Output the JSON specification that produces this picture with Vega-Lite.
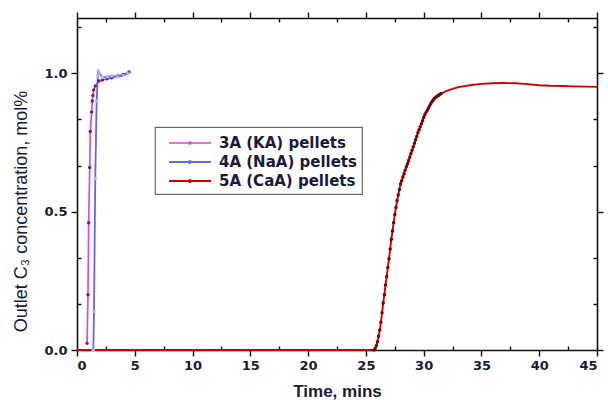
{
  "$schema": "https://vega.github.io/schema/vega-lite/v6.json",
  "width": 520,
  "height": 332,
  "autosize": {"type": "none"},
  "padding": {"left": 77, "top": 18, "right": 11, "bottom": 50},
  "background": "white",
  "config": {
    "view": {"stroke": null},
    "font": "Liberation Sans",
    "axis": {
      "domainColor": "#111111",
      "domainWidth": 1.6,
      "tickColor": "#111111",
      "tickWidth": 1.4,
      "grid": false,
      "labelFont": "DejaVu Sans",
      "labelFontWeight": "bold",
      "labelFontSize": 13,
      "labelColor": "#1a1a3a",
      "titleFont": "Liberation Sans",
      "titleColor": "#1a1a3a"
    },
    "legend": {
      "orient": "none",
      "legendX": 78,
      "legendY": 109,
      "strokeColor": "#6a6a6a",
      "strokeWidth": 1.2,
      "fillColor": "white",
      "padding": 5,
      "symbolType": "M-0.2,0H4M1.8,0a0.1,0.1 0 1,0 0.2,0a0.1,0.1 0 1,0 -0.2,0",
      "symbolSize": 400,
      "symbolStrokeWidth": 1.5,
      "labelFont": "DejaVu Sans",
      "labelFontSize": 15,
      "labelFontWeight": "bold",
      "labelColor": "#1a1a3a",
      "rowPadding": 0,
      "labelOffset": 37
    }
  },
  "data": {
    "values": [
      {"s": "3A (KA) pellets", "t": 0.87, "v": 0.024},
      {"s": "3A (KA) pellets", "t": 0.95, "v": 0.2},
      {"s": "3A (KA) pellets", "t": 1.01, "v": 0.46},
      {"s": "3A (KA) pellets", "t": 1.1, "v": 0.66},
      {"s": "3A (KA) pellets", "t": 1.15, "v": 0.79},
      {"s": "3A (KA) pellets", "t": 1.27, "v": 0.86},
      {"s": "3A (KA) pellets", "t": 1.32, "v": 0.9},
      {"s": "3A (KA) pellets", "t": 1.38, "v": 0.92},
      {"s": "3A (KA) pellets", "t": 1.44, "v": 0.94},
      {"s": "3A (KA) pellets", "t": 1.58, "v": 0.954},
      {"s": "3A (KA) pellets", "t": 1.88, "v": 0.972},
      {"s": "3A (KA) pellets", "t": 2.2, "v": 0.976},
      {"s": "3A (KA) pellets", "t": 2.6, "v": 0.98},
      {"s": "3A (KA) pellets", "t": 3.0, "v": 0.984},
      {"s": "3A (KA) pellets", "t": 3.5, "v": 0.99},
      {"s": "3A (KA) pellets", "t": 4.0, "v": 0.996},
      {"s": "3A (KA) pellets", "t": 4.5, "v": 1.005},
      {"s": "4A (NaA) pellets", "t": 1.41, "v": 0.0},
      {"s": "4A (NaA) pellets", "t": 1.47, "v": 0.14},
      {"s": "4A (NaA) pellets", "t": 1.58, "v": 0.62},
      {"s": "4A (NaA) pellets", "t": 1.7, "v": 0.9},
      {"s": "4A (NaA) pellets", "t": 1.8, "v": 0.99},
      {"s": "4A (NaA) pellets", "t": 1.84, "v": 1.008},
      {"s": "4A (NaA) pellets", "t": 1.95, "v": 1.0},
      {"s": "4A (NaA) pellets", "t": 2.2, "v": 0.986},
      {"s": "4A (NaA) pellets", "t": 2.6, "v": 0.988},
      {"s": "4A (NaA) pellets", "t": 3.0, "v": 0.99},
      {"s": "4A (NaA) pellets", "t": 3.5, "v": 0.988},
      {"s": "4A (NaA) pellets", "t": 4.0, "v": 0.992},
      {"s": "4A (NaA) pellets", "t": 4.4, "v": 1.0},
      {"s": "5A (CaA) pellets", "t": 0, "v": 0},
      {"s": "5A (CaA) pellets", "t": 5, "v": 0},
      {"s": "5A (CaA) pellets", "t": 10, "v": 0},
      {"s": "5A (CaA) pellets", "t": 15, "v": 0},
      {"s": "5A (CaA) pellets", "t": 20, "v": 0},
      {"s": "5A (CaA) pellets", "t": 25, "v": 0},
      {"s": "5A (CaA) pellets", "t": 25.6, "v": 0},
      {"s": "5A (CaA) pellets", "t": 25.7, "v": 0.0},
      {"s": "5A (CaA) pellets", "t": 25.8, "v": 0.005},
      {"s": "5A (CaA) pellets", "t": 25.9, "v": 0.015},
      {"s": "5A (CaA) pellets", "t": 26.0, "v": 0.03},
      {"s": "5A (CaA) pellets", "t": 26.1, "v": 0.05},
      {"s": "5A (CaA) pellets", "t": 26.2, "v": 0.072},
      {"s": "5A (CaA) pellets", "t": 26.3, "v": 0.1},
      {"s": "5A (CaA) pellets", "t": 26.4, "v": 0.135},
      {"s": "5A (CaA) pellets", "t": 26.5, "v": 0.17},
      {"s": "5A (CaA) pellets", "t": 26.6, "v": 0.2},
      {"s": "5A (CaA) pellets", "t": 26.7, "v": 0.235},
      {"s": "5A (CaA) pellets", "t": 26.8, "v": 0.266},
      {"s": "5A (CaA) pellets", "t": 26.9, "v": 0.298},
      {"s": "5A (CaA) pellets", "t": 27.0, "v": 0.33},
      {"s": "5A (CaA) pellets", "t": 27.1, "v": 0.365},
      {"s": "5A (CaA) pellets", "t": 27.2, "v": 0.4},
      {"s": "5A (CaA) pellets", "t": 27.3, "v": 0.43},
      {"s": "5A (CaA) pellets", "t": 27.4, "v": 0.46},
      {"s": "5A (CaA) pellets", "t": 27.5, "v": 0.49},
      {"s": "5A (CaA) pellets", "t": 27.6, "v": 0.515},
      {"s": "5A (CaA) pellets", "t": 27.7, "v": 0.54},
      {"s": "5A (CaA) pellets", "t": 27.8, "v": 0.56},
      {"s": "5A (CaA) pellets", "t": 27.9, "v": 0.58},
      {"s": "5A (CaA) pellets", "t": 28.0, "v": 0.6},
      {"s": "5A (CaA) pellets", "t": 28.1, "v": 0.612},
      {"s": "5A (CaA) pellets", "t": 28.2, "v": 0.625},
      {"s": "5A (CaA) pellets", "t": 28.3, "v": 0.637},
      {"s": "5A (CaA) pellets", "t": 28.4, "v": 0.65},
      {"s": "5A (CaA) pellets", "t": 28.5, "v": 0.662},
      {"s": "5A (CaA) pellets", "t": 28.6, "v": 0.673},
      {"s": "5A (CaA) pellets", "t": 28.7, "v": 0.685},
      {"s": "5A (CaA) pellets", "t": 28.8, "v": 0.697},
      {"s": "5A (CaA) pellets", "t": 28.9, "v": 0.71},
      {"s": "5A (CaA) pellets", "t": 29.0, "v": 0.722},
      {"s": "5A (CaA) pellets", "t": 29.1, "v": 0.735},
      {"s": "5A (CaA) pellets", "t": 29.2, "v": 0.747},
      {"s": "5A (CaA) pellets", "t": 29.3, "v": 0.76},
      {"s": "5A (CaA) pellets", "t": 29.4, "v": 0.772},
      {"s": "5A (CaA) pellets", "t": 29.5, "v": 0.785},
      {"s": "5A (CaA) pellets", "t": 29.6, "v": 0.796},
      {"s": "5A (CaA) pellets", "t": 29.7, "v": 0.807},
      {"s": "5A (CaA) pellets", "t": 29.8, "v": 0.818},
      {"s": "5A (CaA) pellets", "t": 29.9, "v": 0.829},
      {"s": "5A (CaA) pellets", "t": 30.0, "v": 0.84},
      {"s": "5A (CaA) pellets", "t": 30.1, "v": 0.85},
      {"s": "5A (CaA) pellets", "t": 30.2, "v": 0.858},
      {"s": "5A (CaA) pellets", "t": 30.3, "v": 0.866},
      {"s": "5A (CaA) pellets", "t": 30.4, "v": 0.874},
      {"s": "5A (CaA) pellets", "t": 30.5, "v": 0.882},
      {"s": "5A (CaA) pellets", "t": 30.6, "v": 0.889},
      {"s": "5A (CaA) pellets", "t": 30.7, "v": 0.896},
      {"s": "5A (CaA) pellets", "t": 30.8, "v": 0.902},
      {"s": "5A (CaA) pellets", "t": 30.9, "v": 0.908},
      {"s": "5A (CaA) pellets", "t": 31.0, "v": 0.912},
      {"s": "5A (CaA) pellets", "t": 31.1, "v": 0.915},
      {"s": "5A (CaA) pellets", "t": 31.2, "v": 0.918},
      {"s": "5A (CaA) pellets", "t": 31.3, "v": 0.921},
      {"s": "5A (CaA) pellets", "t": 31.4, "v": 0.924},
      {"s": "5A (CaA) pellets", "t": 31.5, "v": 0.927},
      {"s": "5A (CaA) pellets", "t": 32, "v": 0.937},
      {"s": "5A (CaA) pellets", "t": 32.5, "v": 0.944},
      {"s": "5A (CaA) pellets", "t": 33, "v": 0.95},
      {"s": "5A (CaA) pellets", "t": 34, "v": 0.957},
      {"s": "5A (CaA) pellets", "t": 35, "v": 0.962},
      {"s": "5A (CaA) pellets", "t": 36, "v": 0.964},
      {"s": "5A (CaA) pellets", "t": 37, "v": 0.965},
      {"s": "5A (CaA) pellets", "t": 38, "v": 0.964},
      {"s": "5A (CaA) pellets", "t": 39, "v": 0.961},
      {"s": "5A (CaA) pellets", "t": 40, "v": 0.957},
      {"s": "5A (CaA) pellets", "t": 41, "v": 0.955},
      {"s": "5A (CaA) pellets", "t": 42, "v": 0.954},
      {"s": "5A (CaA) pellets", "t": 43, "v": 0.953},
      {"s": "5A (CaA) pellets", "t": 44, "v": 0.952},
      {"s": "5A (CaA) pellets", "t": 45, "v": 0.951}
    ]
  },
  "layer": [
    {
      "mark": {"type": "line"},
      "encoding": {
        "x": {
          "field": "t", "type": "quantitative",
          "scale": {"domain": [0, 45], "nice": false, "zero": false},
          "axis": {
            "orient": "bottom",
            "values": [0, 2.5, 5, 7.5, 10, 12.5, 15, 17.5, 20, 22.5, 25, 27.5, 30, 32.5, 35, 37.5, 40, 42.5, 45],
            "labelExpr": "datum.value % 5 === 0 ? format(datum.value, 'd') : ''",
            "tickSize": {"condition": {"test": "datum.value % 5 === 0", "value": 6}, "value": -4},
            "labelPadding": 3,
            "title": "Time, mins",
            "titleFontSize": 17,
            "titleFontWeight": "bold",
            "titleX": 260,
            "titleY": 46,
            "titleBaseline": "alphabetic"
          }
        },
        "y": {
          "field": "v", "type": "quantitative",
          "scale": {"domain": [0, 1.2], "nice": false, "zero": false},
          "axis": {
            "orient": "left",
            "values": [0, 0.16667, 0.33333, 0.5, 0.66667, 0.83333, 1.0, 1.16667],
            "labelExpr": "abs(datum.value * 2 - round(datum.value * 2)) < 0.001 ? format(datum.value, '.1f') : ''",
            "tickSize": {"condition": {"test": "abs(datum.value * 2 - round(datum.value * 2)) < 0.001", "value": 6}, "value": -4},
            "labelPadding": 4,
            "title": "Outlet C₃ concentration, mol%",
            "titleFontSize": 18,
            "titleFontWeight": "normal",
            "titleAngle": -90,
            "titleX": -56,
            "titleY": 193,
            "titleAlign": "center",
            "titleBaseline": "middle"
          }
        },
        "stroke": {
          "field": "s", "type": "nominal",
          "scale": {"domain": ["3A (KA) pellets", "4A (NaA) pellets", "5A (CaA) pellets"], "range": ["#e048d8", "#6464ee", "#d40000"]},
          "legend": {"title": null}
        },
        "strokeWidth": {
          "field": "s", "type": "nominal",
          "scale": {"domain": ["3A (KA) pellets", "4A (NaA) pellets", "5A (CaA) pellets"], "range": [1.7, 1.9, 2.8]},
          "legend": null
        },
        "order": {"field": "t", "type": "quantitative"}
      }
    },
    {
      "transform": [{"filter": "datum.s != '5A (CaA) pellets' || (datum.t >= 25.7 && datum.t <= 31.6)"}],
      "mark": {"type": "point", "filled": true, "size": 12, "opacity": 1},
      "encoding": {
        "x": {"field": "t", "type": "quantitative", "axis": null},
        "y": {"field": "v", "type": "quantitative", "axis": null},
        "fill": {
          "field": "s", "type": "nominal",
          "scale": {"domain": ["3A (KA) pellets", "4A (NaA) pellets", "5A (CaA) pellets"], "range": ["#7a1878", "#aab4ff", "#7a0000"]},
          "legend": null
        }
      }
    },
    {
      "mark": {"type": "line", "opacity": 0},
      "encoding": {
        "x": {
          "field": "t", "type": "quantitative",
          "axis": {
            "orient": "top", "labels": false, "title": null,
            "values": [0, 2.5, 5, 7.5, 10, 12.5, 15, 17.5, 20, 22.5, 25, 27.5, 30, 32.5, 35, 37.5, 40, 42.5, 45],
            "tickSize": {"condition": {"test": "datum.value % 5 === 0", "value": 6}, "value": -4}
          }
        },
        "y": {
          "field": "v", "type": "quantitative",
          "axis": {
            "orient": "right", "labels": false, "title": null,
            "values": [0, 0.16667, 0.33333, 0.5, 0.66667, 0.83333, 1.0, 1.16667],
            "tickSize": {"condition": {"test": "abs(datum.value * 2 - round(datum.value * 2)) < 0.001", "value": 6}, "value": -4}
          }
        },
        "detail": {"field": "s", "type": "nominal"}
      }
    }
  ],
  "resolve": {"axis": {"x": "independent", "y": "independent"}}
}
